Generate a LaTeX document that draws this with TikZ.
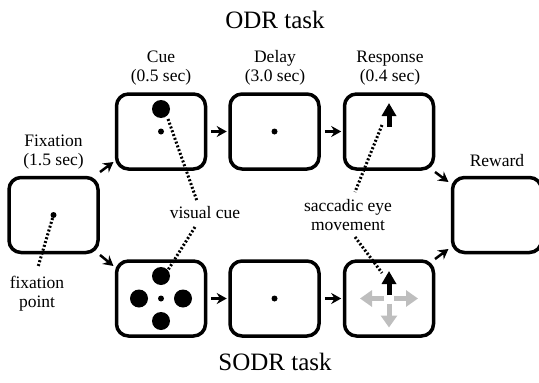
\documentclass[tikz,border=0pt]{standalone}
\usepackage{fontspec}
\setmainfont{Liberation Serif}
\usetikzlibrary{arrows.meta}

\begin{document}
\begin{tikzpicture}[x=1pt,y=-1pt,
  screen/.style={draw, line width=3.5pt, rounded corners=12pt,
    minimum width=89pt, minimum height=75pt, inner sep=0pt},
  lbl/.style={font=\fontsize{17.5}{18.5}\selectfont, align=center, inner sep=0pt},
  ttl/.style={font=\fontsize{25}{28}\selectfont, inner sep=0pt},
  trans/.style={line width=2.5pt, -{Stealth[length=10pt,width=11pt]}},
  cueline/.style={line width=3pt, dash pattern=on 2pt off 2pt},
  spot/.style={circle, fill, inner sep=0pt, minimum size=6pt},
  stim/.style={circle, fill, inner sep=0pt, minimum size=18pt},
  eyemove/.style={line width=5pt, -{Triangle[length=13pt,width=14pt]}},
  alt/.style={line width=5pt, draw={rgb,255:red,190;green,190;blue,190},
    -{Triangle[length=12pt,width=16pt]}}
]
\useasboundingbox (0,0) rectangle (539,383);
\clip (0,0) rectangle (539,383);

% titles
\node[ttl] (odr) at (275,20) {ODR task};
\node[ttl] (sodr) at (275,362) {SODR task};

% task screens
\node[screen] (fix) at (53.5,215) {};
\node[screen] (cue) at (161,131.5) {};
\node[screen] (delay) at (274.5,131.5) {};
\node[screen] (resp) at (389,131.5) {};
\node[screen] (scue) at (161,298.5) {};
\node[screen] (sdelay) at (274.5,298.5) {};
\node[screen] (sresp) at (389,298.5) {};
\node[screen] (reward) at (497,215) {};

% epoch labels
\node[lbl] (lfix) at (53.5,152) {Fixation\\(1.5 sec)};
\node[lbl] (lcue) at (161,68) {Cue\\(0.5 sec)};
\node[lbl] (ldelay) at (275,68) {Delay\\(3.0 sec)};
\node[lbl] (lresp) at (390,68) {Response\\(0.4 sec)};
\node[lbl] (lrew) at (497,161) {Reward};

% annotations
\node[lbl] (lfp) at (37,293.5) {fixation\\point};
\node[lbl] (lvc) at (205,213) {visual cue};
\node[lbl] (lsac) at (348,215) {saccadic eye\\movement};

% stimuli
\node[spot] (fdot) at (fix.center) {};
\node[spot] (cdot) at (cue.center) {};
\node[stim] (ctarget) at (161,109) {};
\node[spot] (ddot) at (delay.center) {};
\node[spot] (sdot) at (scue.center) {};
\node[stim] (st1) at (161,276) {};
\node[stim] (st2) at (139,298.5) {};
\node[stim] (st3) at (183,298.5) {};
\node[stim] (st4) at (161,321) {};
\node[spot] (sddot) at (sdelay.center) {};

% eye movements
\coordinate (r0) at (389,127);
\coordinate (r1) at (389,103);
\draw[eyemove] (r0) -- (r1);
\coordinate (sc) at (389,298.5);
\draw[alt] (384,298.5) -- (360,298.5);
\draw[alt] (394,298.5) -- (418,298.5);
\draw[alt] (389,303.5) -- (389,327.5);
\coordinate (s0) at (389,295);
\coordinate (s1) at (389,271);
\draw[eyemove] (s0) -- (s1);

% transitions between epochs
\coordinate (a1s) at (100,172); \coordinate (a1e) at (113.5,162);
\coordinate (a2s) at (100,255); \coordinate (a2e) at (113.5,266);
\coordinate (a3s) at (435,172); \coordinate (a3e) at (448.5,182);
\coordinate (a4s) at (435,259); \coordinate (a4e) at (448.5,249);
\draw[trans] (a1s) -- (a1e);
\draw[trans] (a2s) -- (a2e);
\draw[trans, shorten <=4pt, shorten >=1.5pt] (cue.east) -- (delay.west);
\draw[trans, shorten <=4pt, shorten >=1.5pt] (delay.east) -- (resp.west);
\draw[trans, shorten <=4pt, shorten >=1.5pt] (scue.east) -- (sdelay.west);
\draw[trans, shorten <=4pt, shorten >=1.5pt] (sdelay.east) -- (sresp.west);
\draw[trans] (a3s) -- (a3e);
\draw[trans] (a4s) -- (a4e);

% pointer lines
\coordinate (p1) at (38,267);
\draw[cueline] (fdot) -- (p1);
\coordinate (p2a) at (168,119); \coordinate (p2b) at (197,201);
\coordinate (p3a) at (195,227); \coordinate (p3b) at (168,270);
\draw[cueline] (p2a) -- (p2b);
\draw[cueline] (p3a) -- (p3b);
\coordinate (p4a) at (382,125); \coordinate (p4b) at (355,192);
\coordinate (p5a) at (355,237); \coordinate (p5b) at (382,273);
\draw[cueline] (p4a) -- (p4b);
\draw[cueline] (p5a) -- (p5b);
\end{tikzpicture}
\end{document}
